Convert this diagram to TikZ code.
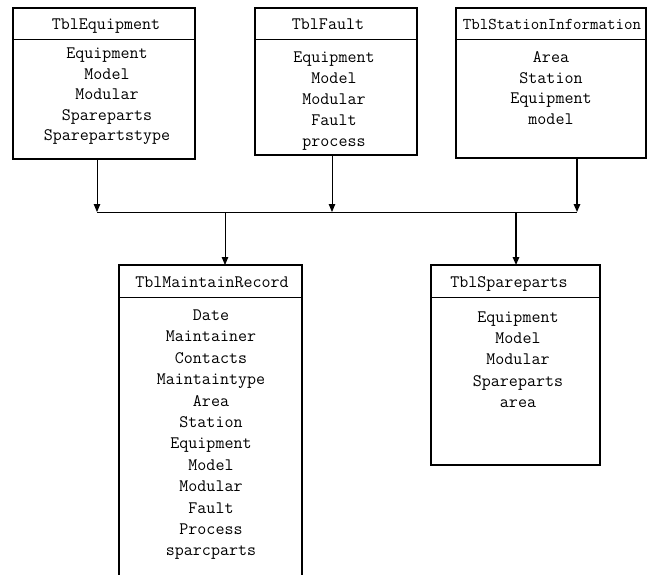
\documentclass[tikz,border=0pt]{standalone}
\usetikzlibrary{arrows.meta}
\begin{document}
\begin{tikzpicture}[x=1pt,y=-1pt,
  tbl/.style={draw, line width=1.1pt, inner sep=0pt, outer sep=0pt, anchor=north west},
  sep/.style={line width=0.8pt},
  fld/.style={font=\ttfamily\fontsize{17.5}{17.5}\selectfont, inner sep=0pt, text height=11pt, text depth=0pt},
  nfld/.style={fld, font=\ttfamily\fontsize{16.5}{16.5}\selectfont},
  bus/.style={line width=0.8pt},
  arr/.style={line width=0.8pt, -{Triangle[length=8pt,width=6.5pt]}},
  thickarr/.style={line width=1.5pt, -{Triangle[length=8pt,width=6.5pt]}}]
\useasboundingbox (0,0) rectangle (648,574);
% top tables
\node[tbl, minimum width=182pt, minimum height=151pt] (eq) at (13,8) {};
\draw[sep] ([yshift=-31pt]eq.north west) -- ([yshift=-31pt]eq.north east);
\node[fld] (eqh) at (106,24) {TblEquipment};
\foreach \t [count=\i] in {Equipment,Model,Modular,Spareparts,Sparepartstype}
  \node[fld] (eqf\i) at (107,{53+20.5*(\i-1)}) {\t};

\node[tbl, minimum width=162pt, minimum height=147pt] (flt) at (255,8) {};
\draw[sep] ([yshift=-31pt]flt.north west) -- ([yshift=-31pt]flt.north east);
\node[fld] (flth) at (328,24) {TblFault};
\foreach \t [count=\i] in {Equipment,Model,Modular,Fault,process}
  \node[fld] (fltf\i) at (334,{57+21*(\i-1)}) {\t};

\node[tbl, minimum width=190pt, minimum height=150pt] (st) at (456,8) {};
\draw[sep] ([yshift=-31pt]st.north west) -- ([yshift=-31pt]st.north east);
\node[nfld] (sth) at (552,24) {TblStationInformation};
\foreach \t [count=\i] in {Area,Station,Equipment,model}
  \node[fld] (stf\i) at (551,{57+20.5*(\i-1)}) {\t};

% bottom tables
\node[tbl, minimum width=183pt, minimum height=330pt] (mr) at (119,265) {};
\draw[sep] ([yshift=-32pt]mr.north west) -- ([yshift=-32pt]mr.north east);
\node[fld] (mrh) at (212,282) {TblMaintainRecord};
\foreach \t [count=\i] in {Date,Maintainer,Contacts,Maintaintype,Area,Station,Equipment,Model,Modular,Fault,Process,sparcparts}
  \node[fld] (mrf\i) at (211,{315+21.4*(\i-1)}) {\t};

\node[tbl, minimum width=169pt, minimum height=200pt] (sp) at (431,265) {};
\draw[sep] ([yshift=-32pt]sp.north west) -- ([yshift=-32pt]sp.north east);
\node[fld] (sph) at (509,282) {TblSpareparts};
\foreach \t [count=\i] in {Equipment,Model,Modular,Spareparts,area}
  \node[fld] (spf\i) at (518,{317+21.2*(\i-1)}) {\t};

% connectors
\coordinate (j1) at (97,212);
\coordinate (j2) at (332,212);
\coordinate (j3) at (577,212);
\coordinate (j4) at (225,212);
\coordinate (j5) at (516,212);
\draw[bus] (j1) -- (j3);
\draw[arr] (j1 |- eq.south) -- (j1);
\draw[arr] (j2 |- flt.south) -- (j2);
\draw[thickarr] (j3 |- st.south) -- (j3);
\draw[arr] (j4) -- (j4 |- mr.north);
\draw[thickarr] (j5) -- (j5 |- sp.north);
\end{tikzpicture}
\end{document}
